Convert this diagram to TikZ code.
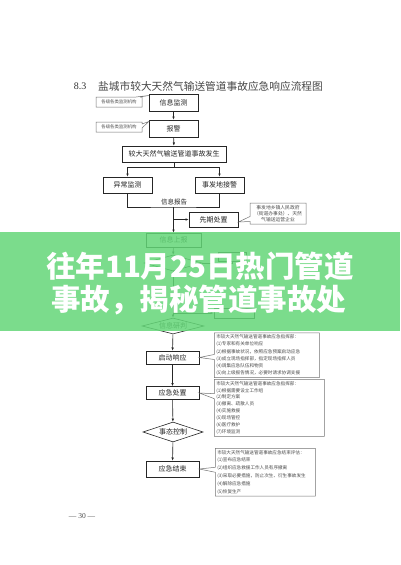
\documentclass[tikz,border=0pt]{standalone}
\usepackage{fontspec}
\setmainfont{Liberation Serif}
\newfontfamily\cjk{Noto Sans CJK SC}
\usetikzlibrary{shapes.geometric,shapes.callouts,arrows.meta}
\definecolor{bannergreen}{RGB}{100,215,120}
\tikzset{
  box/.style={draw=black!85, line width=0.6pt, minimum width=49pt, minimum height=16pt,
    inner sep=0pt, font=\cjk\fontsize{7}{8}\selectfont, text=black!85},
  dia/.style={draw=black!85, line width=0.6pt, diamond, aspect=3, inner sep=0pt,
    font=\cjk\fontsize{7}{8}\selectfont, text=black!85},
  arr/.style={-{Latex[length=3.2pt,width=2.6pt]}, line width=0.6pt, draw=black!85},
  ln/.style={line width=0.6pt, draw=black!85},
  note/.style={rectangle callout, draw=black!55, line width=0.5pt, inner sep=2pt,
    align=left, font=\cjk\fontsize{4.6}{7.2}\selectfont, text=black!70,
    callout pointer width=5pt},
  smallnote/.style={rectangle callout, draw=black!55, line width=0.5pt, inner sep=0pt,
    minimum width=46pt, minimum height=10pt, font=\cjk\fontsize{4.4}{5}\selectfont,
    text=black!70, callout pointer width=4pt},
  banner/.style={font=\cjk\bfseries\fontsize{29.5}{30}\selectfont, text=white, inner sep=0pt},
}
\begin{document}
\begin{tikzpicture}[x=1pt,y=-1pt]
\useasboundingbox[fill=white] (0,0) rectangle (400,565);

% title
\node[font=\fontsize{10}{11}\selectfont, text=black!80, inner sep=0pt] (tnum) at (80,86) {8.3};
\node[anchor=west, font=\cjk\fontsize{10.7}{12}\selectfont, text=black!72, inner sep=0pt] (title) at (98,86) {盐城市较大天然气输送管道事故应急响应流程图};

% top chain
\node[box, minimum height=17pt] (xj) at (173.5,102.5) {信息监测};
\node[box, minimum height=17pt] (bj) at (173.5,128.5) {报警};
\node[box, minimum width=104pt] (fs) at (174,154) {较大天然气输送管道事故发生};
\node[box] (yc) at (127.5,185) {异常监测};
\node[box] (sf) at (219.5,185) {事发地接警};
\node[box, minimum height=15pt] (xq) at (213.5,219.5) {先期处置};
\node[box, minimum width=55pt, minimum height=14pt] (sb) at (173.5,240) {信息上报};

\node[smallnote, callout absolute pointer={(148.8,95.5)}] (n1) at (119,102) {各级各类监测机构};
\node[smallnote, callout absolute pointer={(148.8,121.5)}] (n2) at (119,127) {各级各类监测机构};
\node[note, align=center, inner sep=1.5pt, font=\cjk\fontsize{4.8}{6}\selectfont,
      minimum width=56pt, minimum height=21pt, callout absolute pointer={(238.5,222)}]
      (n3) at (278,213.5) {事发地乡镇人民政府\\（街道办事处）、天然\\气输送运营企业};

\draw[arr] (xj) -- (bj);
\draw[arr] (bj) -- (fs);
\coordinate (s1) at (174,167);
\draw[ln] (fs) -- (s1);
\draw[arr] (s1) -| (yc.north);
\draw[arr] (s1) -| (sf.north);
\coordinate (r1) at (173.5,207);
\draw[ln] (yc.south) |- (r1) -| (sf.south);
\node[font=\cjk\fontsize{6.5}{7}\selectfont, text=black!85, inner sep=0pt, anchor=south] (lbl) at (174,205) {信息报告};
\draw[arr] (r1) -- (sb);
\coordinate (b1) at (173.5,219.5);
\draw[arr] (b1) -- (xq.west);

% part hidden under banner
\node[dia, minimum width=58pt, minimum height=16pt] (hd) at (173,263) {};
\node[box, minimum width=28pt, minimum height=9pt] (hb1) at (232,257) {};
\node[box, minimum width=40pt, minimum height=10pt] (hb2) at (234,313) {};
\draw[arr] (sb) -- (hd);
\draw[ln] (hd.east) -| (hb1.south);
\node[dia, minimum width=62pt, minimum height=16pt] (yp) at (173,326) {信息研判};
\draw[arr] (hd) -- (yp);
\coordinate (b2) at (173,313);
\draw[arr] (b2) -- (hb2.west);

% lower chain
\node[box, minimum width=53pt, minimum height=13pt] (qd) at (172.5,357.5) {启动响应};
\node[box, minimum width=53pt, minimum height=13pt] (cz) at (172.5,393) {应急处置};
\node[dia, minimum width=60pt, minimum height=20pt] (tk) at (173,432) {事态控制};
\node[box, minimum width=53pt, minimum height=16pt] (js) at (172.5,469) {应急结束};
\draw[arr] (yp) -- (qd);
\draw[arr] (qd) -- (cz);
\draw[arr] (cz) -- (tk);
\draw[arr] (tk) -- (js);

\node[note, anchor=north west, text width=101pt, callout absolute pointer={(qd.east)}] (c1) at (214,332.5)
 {市较大天然气输送管道事故应急指挥部：\\(1)专家和有关单位响应\\(2)根据事故状况，依照应急预案启动应急\\(3)成立现场指挥部，指定现场指挥人员\\(4)调集应急队伍和物资\\(5)向上级报告情况，必要时请求协调支援};
\node[note, anchor=north west, text width=106pt, font=\cjk\fontsize{4.6}{6.9}\selectfont, callout absolute pointer={(cz.east)}] (c2) at (214,379)
 {市较大天然气输送管道事故应急指挥部：\\(1)根据需要设立工作组\\(2)制定方案\\(3)撤离、疏散人员\\(4)实施救援\\(5)现场管控\\(6)医疗救护\\(7)环境监测};
\node[note, anchor=north west, text width=96pt, font=\cjk\fontsize{4.6}{7.8}\selectfont, callout absolute pointer={(js.east)}] (c3) at (215,448)
 {市较大天然气输送管道事故应急结束评估：\\(1)宣布应急结束\\(2)组织应急救援工作人员有序撤离\\(3)采取必要措施，防止次生、衍生事故发生\\(4)解除应急措施\\(5)恢复生产};

% page number
\node[font=\fontsize{7.5}{8}\selectfont, text=black!70, inner sep=0pt] (pg) at (82,516) {— 30 —};

% banner
\fill[bannergreen, opacity=0.85] (0,232) rectangle (400,331);
\node[banner] (bt1) at (200,266) {往年11月25日热门管道};
\node[banner] (bt2) at (198.5,300) {事故，揭秘管道事故处};
\end{tikzpicture}
\end{document}
